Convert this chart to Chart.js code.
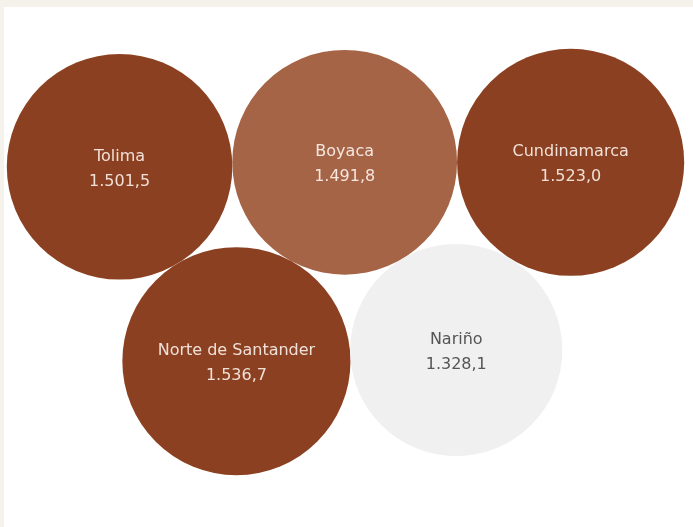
<!DOCTYPE html>
<html>
<head>
<meta charset="utf-8">
<script src="https://cdn.jsdelivr.net/npm/chart.js@4"></script>
<style>
    html, body { margin: 0; padding: 0; background: #f5f2eb; width: 693px; height: 527px; overflow: hidden; }
    #wrap { position: absolute; left: 4px; top: 7px; width: 689px; height: 520px; background: #fff; }
</style>
</head>
<body>
<div id="wrap"><canvas id="bubbles" width="689" height="520"></canvas></div>
<script>
// departamentos y su valor
const departamentos = ['Tolima', 'Boyaca', 'Cundinamarca', 'Norte de Santander', 'Nariño'];
const valores = [1501.5, 1491.8, 1523.0, 1536.7, 1328.1];

const colores = ['#8b4121', '#a66446', '#8b4121', '#8b4121', '#f0f0f0'];
const coloresTexto = ['#f1e0d8', '#f5e6df', '#f1e0d8', '#f1e0d8', '#555555'];

// formato 1.501,5
function formato(v) {
    const [ent, dec] = v.toFixed(1).split('.');
    return ent.replace(/\B(?=(\d{3})+(?!\d))/g, '.') + ',' + dec;
}

// radio proporcional a la raiz del valor
const k = 2.91;
const radios = valores.map(v => k * Math.sqrt(v));

// circulo tangente a a y b
function tangente(a, b, r) {
    const dx = b.x - a.x, dy = b.y - a.y;
    const d = Math.hypot(dx, dy);
    const d1 = a.r + r, d2 = b.r + r;
    const x = (d1 * d1 - d2 * d2 + d * d) / (2 * d);
    const h = Math.sqrt(Math.max(0, d1 * d1 - x * x));
    const ux = dx / d, uy = dy / d;
    return { x: a.x + x * ux - h * uy, y: a.y + x * uy + h * ux, r: r };
}

// empaquetado: Boyaca al centro, Tolima a la izquierda, Cundinamarca a la derecha, luego abajo
const pos = [];
pos[1] = { x: 0, y: 0, r: radios[1] };
const angT = Math.PI - 0.02;
pos[0] = { x: Math.cos(angT) * (radios[0] + radios[1]), y: Math.sin(angT) * (radios[0] + radios[1]), r: radios[0] };
pos[2] = { x: radios[1] + radios[2], y: 0, r: radios[2] };
pos[3] = tangente(pos[0], pos[1], radios[3]);
pos[4] = tangente(pos[3], pos[1], radios[4]);

// centrar en el area
const minX = Math.min(...pos.map(p => p.x - p.r)), maxX = Math.max(...pos.map(p => p.x + p.r));
const minY = Math.min(...pos.map(p => p.y - p.r)), maxY = Math.max(...pos.map(p => p.y + p.r));
const centro = { x: 341.5, y: 255 };
const offX = centro.x - (minX + maxX) / 2, offY = centro.y - (minY + maxY) / 2;

const puntos = pos.map(p => ({ x: p.x + offX, y: p.y + offY, r: p.r }));

const etiquetas = {
    id: 'etiquetas',
    afterDatasetsDraw(chart) {
        const ctx = chart.ctx;
        const meta = chart.getDatasetMeta(0);
        ctx.save();
        ctx.font = '16px "DejaVu Sans"';
        ctx.textAlign = 'center';
        ctx.textBaseline = 'middle';
        meta.data.forEach((el, i) => {
            ctx.fillStyle = coloresTexto[i];
            ctx.fillText(departamentos[i], el.x, el.y - 10);
            ctx.fillText(formato(valores[i]), el.x, el.y + 15);
        });
        ctx.restore();
    }
};

new Chart(document.getElementById('bubbles').getContext('2d'), {
    type: 'bubble',
    data: {
        labels: departamentos,
        datasets: [{
            data: puntos,
            backgroundColor: colores,
            borderWidth: 0,
            hoverRadius: 0,
            clip: false
        }]
    },
    options: {
        responsive: false,
        animation: false,
        events: [],
        layout: { padding: 0, autoPadding: false },
        plugins: { legend: { display: false }, tooltip: { enabled: false } },
        scales: {
            x: { display: false, min: 0, max: 689 },
            y: { display: false, min: 0, max: 520, reverse: true }
        }
    },
    plugins: [etiquetas]
});
</script>
</body>
</html>
